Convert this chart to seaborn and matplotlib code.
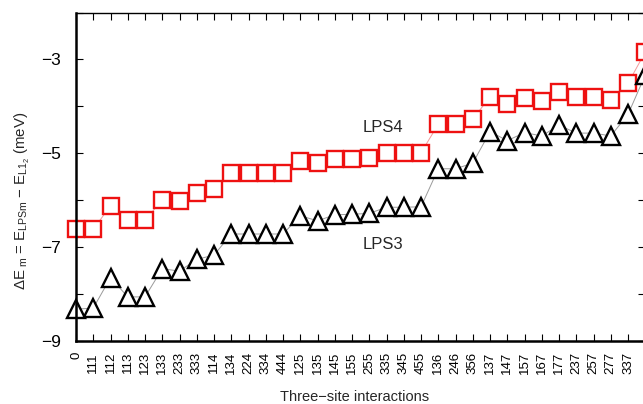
import matplotlib
matplotlib.use("Agg")
import matplotlib.pyplot as plt
import seaborn as sns

# Three-site cluster labels along the x axis
interactions = ["0", "111", "112", "113", "123", "133", "233", "333", "114",
                "134", "224", "334", "444", "125", "135", "145", "155", "255",
                "335", "345", "455", "136", "246", "356", "137", "147", "157",
                "167", "177", "237", "257", "277", "337", ""]

# Energy differences (meV)
lps4 = [-6.62, -6.62, -6.12, -6.43, -6.43, -5.99, -6.01, -5.84, -5.77,
        -5.41, -5.41, -5.41, -5.41, -5.16, -5.21, -5.12, -5.12, -5.09,
        -5.00, -5.00, -4.99, -4.38, -4.38, -4.27, -3.80, -3.94, -3.82,
        -3.88, -3.69, -3.81, -3.81, -3.87, -3.51, -2.84]
lps3 = [-8.32, -8.30, -7.65, -8.06, -8.06, -7.46, -7.51, -7.26, -7.17,
        -6.72, -6.72, -6.72, -6.72, -6.33, -6.44, -6.31, -6.30, -6.28,
        -6.15, -6.15, -6.14, -5.33, -5.33, -5.21, -4.54, -4.73, -4.56,
        -4.63, -4.40, -4.57, -4.57, -4.63, -4.17, -3.33]

y_ticks = [-9, -8, -7, -6, -5, -4, -3, -2]
y_labels = ["\u22129", "", "\u22127", "", "\u22125", "", "\u22123", ""]

sns.set_style("white")
plt.rcParams["font.family"] = ["Liberation Sans", "DejaVu Sans"]
plt.rcParams["mathtext.fontset"] = "custom"
plt.rcParams["mathtext.rm"] = "Liberation Sans"
plt.rcParams["mathtext.it"] = "Liberation Sans:italic"
plt.rcParams["mathtext.default"] = "regular"

fig = plt.figure(figsize=(6.43, 4.04), dpi=100)
ax = fig.add_axes([76 / 643, 63 / 404, 569.3 / 643, 328.5 / 404])

idx = list(range(len(interactions)))

# LPS4: open red squares on a thin pink line
sns.lineplot(x=idx, y=lps4, ax=ax, color="#f29a9a", linewidth=0.7,
             marker="s", markersize=11, markerfacecolor="white",
             markeredgecolor="#ee1111", markeredgewidth=1.7, clip_on=False)
# LPS3: open black triangles on a thin grey line
sns.lineplot(x=idx, y=lps3, ax=ax, color="#9a9a9a", linewidth=0.7,
             marker="^", markersize=13, markerfacecolor="white",
             markeredgecolor="black", markeredgewidth=1.7, clip_on=False)

ax.set_xlim(0, 32.85)
ax.set_ylim(-9, -2)
ax.set_xticks(idx)
ax.set_xticklabels(interactions, rotation=90, fontsize=9.5)
ax.set_yticks(y_ticks)
ax.set_yticklabels(y_labels, fontsize=12.5)

ax.tick_params(axis="x", direction="in", length=5, width=0.8, pad=8,
               top=True, bottom=True, colors="black")
ax.tick_params(axis="y", direction="in", length=5, width=0.8, pad=11,
               left=True, right=True, colors="black")

for side in ["left", "bottom"]:
    ax.spines[side].set_linewidth(1.8)
for side in ["top", "right"]:
    ax.spines[side].set_linewidth(1.0)
for sp in ax.spines.values():
    sp.set_color("black")

ax.text(17.8, -4.46, "LPS4", fontsize=12, ha="center", va="center")
ax.text(17.8, -6.95, "LPS3", fontsize=12, ha="center", va="center")

ax.set_xlabel("Three\u2212site interactions", fontsize=10.5)
ax.xaxis.set_label_coords((355 - 76) / 569.3, -0.148)
ax.set_ylabel(r"$\Delta E_{\ m}$ = $E_{LPSm}$ $-$ $E_{L1_2}$ (meV)",
              fontsize=10.8)
ax.yaxis.set_label_coords(-0.078, (341 - 201) / 328.5)

fig.savefig("out.png", dpi=100)
